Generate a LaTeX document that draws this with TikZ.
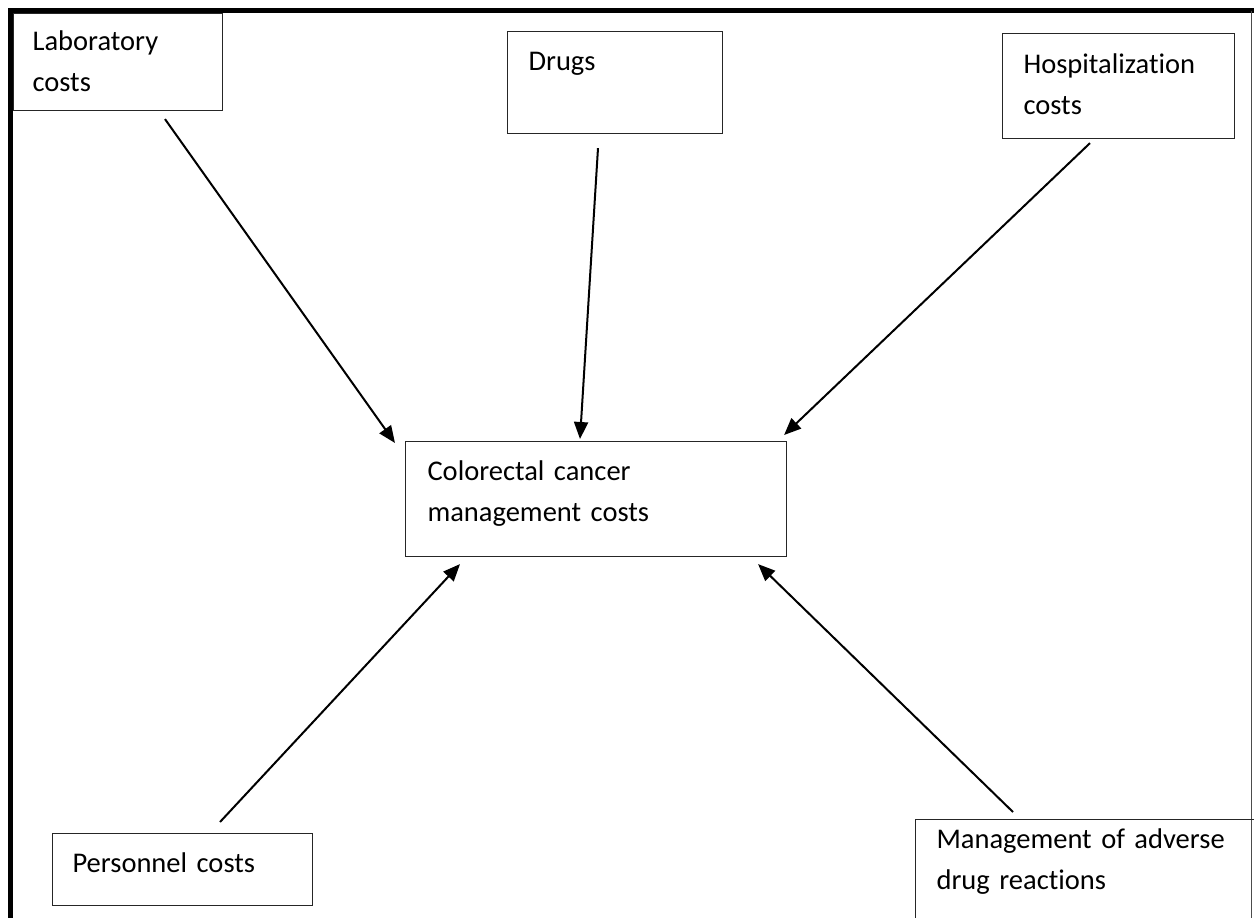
\documentclass[tikz,border=0pt]{standalone}
\usepackage{fontspec}
\setmainfont{Carlito}[Ligatures=NoCommon]
\usepackage{tikz}
\usetikzlibrary{arrows.meta,positioning}

\tikzset{
    costbox/.style={draw=black!85, line width=1.1pt, anchor=north west, align=left,
        inner ysep=0pt, font=\fontsize{28.5}{41}\selectfont},
    feed/.style={line width=2pt, -{Triangle[length=17pt,width=14pt]}}
}

\begin{document}
\begin{tikzpicture}[x=1pt,y=-1pt]
    % Page size of the figure
    \useasboundingbox (0,0) rectangle (1254,918);

    % Outer frame - thick on top and left, thin on the right
    \draw[line width=5pt] (10.5,918) -- (10.5,10.5) -- (1254,10.5);
    \draw[line width=1pt, black!70] (1251.5,10.5) -- (1251.5,918);

    % Cost components around the frame
    \node[costbox, inner xsep=19pt, text width=171pt, text height=37pt, text depth=60pt]
        (lab) at (13,13) {Laboratory\\costs};
    \node[costbox, inner xsep=21pt, text width=173pt, text height=39pt, text depth=63pt]
        (drugs) at (507,31) {Drugs};
    \node[costbox, inner xsep=21pt, text width=190pt, text height=40pt, text depth=65pt]
        (hosp) at (1002,33) {Hospitalization\\costs};
    \node[costbox, inner xsep=20pt, text width=220pt, text height=39pt, text depth=33pt]
        (pers) at (52,833) {Personnel costs};
    \node[costbox, inner xsep=21pt, text width=303pt, text height=29pt, text depth=92pt]
        (adr) at (915,819) {Management of adverse\\drug reactions};

    % Total in the middle
    \node[costbox, inner xsep=22pt, text width=337pt, text height=39pt, text depth=76pt]
        (centre) at (405,441) {Colorectal cancer\\management costs};

    % Arrows into the total
    \draw[feed] ([shift={(152,8)}]lab.south west) -- ([shift={(-10,2)}]centre.north west);
    \draw[feed] ([shift={(91,14)}]drugs.south west) -- ([shift={(175,-2)}]centre.north west);
    \draw[feed] ([shift={(88,4)}]hosp.south west) -- ([shift={(-3,-6)}]centre.north east);
    \draw[feed] ([shift={(168,-11)}]pers.north west) -- ([shift={(55,7)}]centre.south west);
    \draw[feed] ([shift={(98,-7)}]adr.north west) -- ([shift={(-29,7)}]centre.south east);
\end{tikzpicture}
\end{document}
